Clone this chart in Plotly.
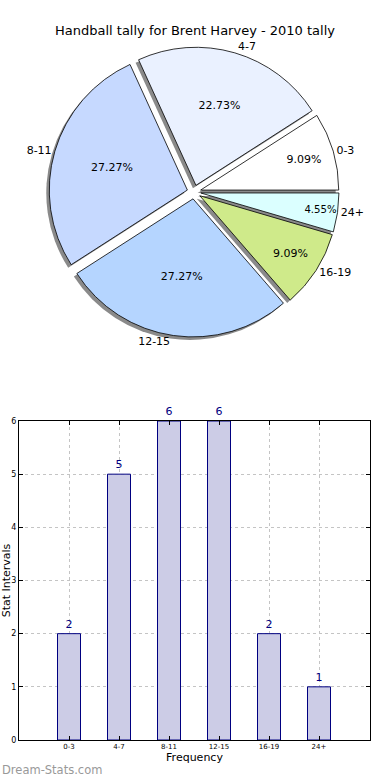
import plotly.graph_objects as go

categories = ["0-3", "4-7", "8-11", "12-15", "16-19", "24+"]
counts = [2, 5, 6, 6, 2, 1]
slice_colors = ["#FFFFFF", "#EAF1FF", "#C6D9FF", "#B5D5FF", "#CFEA8A", "#DBFFFF"]
y_ticks = [0, 1, 2, 3, 4, 5, 6]

W, H = 390, 780
FONT = "DejaVu Sans"
pull = [0.05] * len(counts)

# first slice starts at 3 o'clock and runs counterclockwise
start_rotation = 90 - 360 * counts[0] / sum(counts)

# pie geometry (pixels)
cx, cy, half = 194, 192, 145
pie_x = [(cx - half) / W, (cx + half) / W]
pie_y = [1 - (cy + half) / H, 1 - (cy - half) / H]
sdx, sdy = -3 / W, -3 / H

common = dict(labels=categories, values=counts, sort=False, direction="counterclockwise",
              rotation=start_rotation, pull=pull, hoverinfo="skip", showlegend=False)

fig = go.Figure()
# shadow
fig.add_trace(go.Pie(**common,
                     domain=dict(x=[pie_x[0] + sdx, pie_x[1] + sdx], y=[pie_y[0] + sdy, pie_y[1] + sdy]),
                     marker=dict(colors=["#8a8a8a"] * len(counts), line=dict(width=0)),
                     textinfo="none"))
# main pie with percentages inside
fig.add_trace(go.Pie(**common, domain=dict(x=pie_x, y=pie_y),
                     marker=dict(colors=slice_colors, line=dict(color="#000000", width=0.8)),
                     texttemplate="%{percent:.2%}", textposition="inside",
                     insidetextorientation="horizontal",
                     textfont=dict(family=FONT, size=11, color="#000000")))
# labels outside
fig.add_trace(go.Pie(**common, domain=dict(x=pie_x, y=pie_y),
                     marker=dict(colors=["rgba(0,0,0,0)"] * len(counts), line=dict(width=0)),
                     texttemplate="%{label}", textposition="outside",
                     textfont=dict(family=FONT, size=11, color="#000000")))

# bar chart
fig.add_trace(go.Bar(x=categories, y=counts, width=0.46,
                     marker=dict(color="#CCCCE6", line=dict(color="#000080", width=1)),
                     text=counts, textposition="outside", cliponaxis=False, constraintext="none",
                     textfont=dict(family=FONT, size=11, color="#000080"),
                     showlegend=False, hoverinfo="skip"))

fig.update_layout(
    width=W, height=H, margin=dict(l=0, r=0, t=0, b=0),
    paper_bgcolor="white", plot_bgcolor="white",
    font=dict(family=FONT, color="#000000"),
    title=dict(text="Handball tally for Brent Harvey - 2010 tally", x=0.5, xanchor="center",
               y=1 - 30 / H, yanchor="middle", yref="container", automargin=False,
               font=dict(family=FONT, size=13, color="#000000")),
    xaxis=dict(domain=[19 / W, 370 / W], range=[-1, 6.02], type="category", automargin=False,
               showline=True, linecolor="#000000", linewidth=1, mirror="ticks",
               ticks="inside", ticklen=4, tickcolor="#000000",
               tickfont=dict(family=FONT, size=7, color="#000000"),
               showgrid=True, gridcolor="#c4c4c4", griddash="dot", gridwidth=1,
               title=dict(text="Frequency", font=dict(family=FONT, size=11), standoff=0),
               zeroline=False),
    yaxis=dict(domain=[1 - 740 / H, 1 - 421 / H], range=[0, 6], tickvals=y_ticks, automargin=False,
               showline=True, linecolor="#000000", linewidth=1, mirror="ticks",
               ticks="inside", ticklen=4, tickcolor="#000000",
               tickfont=dict(family=FONT, size=8, color="#000000"),
               showgrid=True, gridcolor="#c4c4c4", griddash="dot", gridwidth=1,
               title=dict(text="Stat Intervals", font=dict(family=FONT, size=11), standoff=3),
               zeroline=False),
    annotations=[dict(text="Dream-Stats.com", x=0, y=1 - 770 / H, xref="paper", yref="paper",
                      xanchor="left", yanchor="middle", showarrow=False,
                      font=dict(family=FONT, size=11.5, color="#999999"))],
)

fig.write_html("out.html", config={"displayModeBar": False},
               post_script="document.body.style.margin='0px';")
